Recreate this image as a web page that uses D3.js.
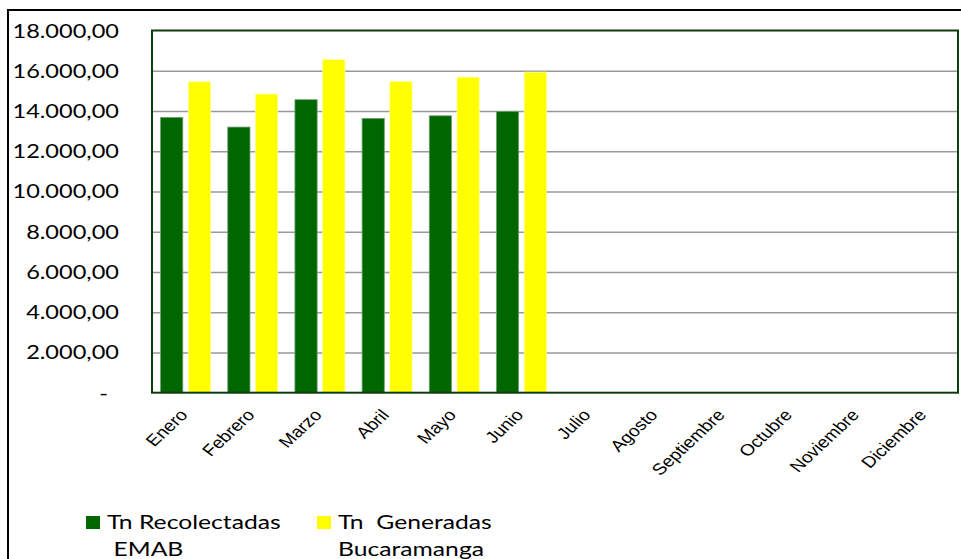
<!DOCTYPE html>
<html><head><meta charset="utf-8">
<script src="https://cdn.jsdelivr.net/npm/d3@7"></script>
<style>
html,body{margin:0;padding:0;background:#fff;}
svg{display:block;}
</style></head>
<body>
<svg id="chart" width="961" height="559"></svg>
<script>
const categories = ["Enero","Febrero","Marzo","Abril","Mayo","Junio","Julio","Agosto","Septiembre","Octubre","Noviembre","Diciembre"];
const recolectadasEMAB = [13680,13200,14560,13630,13760,13980,null,null,null,null,null,null];
const generadasBucaramanga = [15450,14840,16560,15470,15680,15930,null,null,null,null,null,null];
const yTickValues = [0,2000,4000,6000,8000,10000,12000,14000,16000,18000];
const seriesLabels = [["Tn Recolectadas","EMAB"],["Tn  Generadas","Bucaramanga"]];
const seriesColors = ["#006600","#ffff00"];

const svg = d3.select("#chart");
const SX = 1.3; // horizontal stretch of original rendering
const plot = {left:152, top:30.5, right:958, bottom:392.7};

// outer chart frame
svg.append("rect").attr("x",8).attr("y",10).attr("width",1000).attr("height",600)
  .attr("fill","#fff").attr("stroke","#000").attr("stroke-width",2);

const x = d3.scaleBand().domain(categories).range([plot.left, plot.right]).paddingInner(0).paddingOuter(0);
const xs = d3.scaleBand().domain([0,1]).range([0, x.bandwidth()]).paddingInner(0.2).paddingOuter(0.31);
const y = d3.scaleLinear().domain([0,18000]).range([plot.bottom, plot.top]);

const loc = d3.formatLocale({decimal:",", thousands:".", grouping:[3], currency:["$",""]});
const fmt = loc.format(",.2f");

// gridlines
const grid = svg.append("g").attr("transform",`translate(${plot.left},0)`)
  .call(d3.axisLeft(y).tickValues(yTickValues.filter(v=>v>0 && v<18000)).tickSize(-(plot.right-plot.left)).tickFormat(""));
grid.select(".domain").remove();
grid.selectAll(".tick line").attr("stroke","#999").attr("stroke-width",1.6);

// bars
const series = [recolectadasEMAB, generadasBucaramanga];
series.forEach((vals, si) => {
  svg.append("g").selectAll("rect")
    .data(categories.map((c,i)=>({c, v: vals[i]})).filter(d=>d.v!=null))
    .join("rect")
    .attr("x", d => x(d.c) + xs(si))
    .attr("width", xs.bandwidth())
    .attr("y", d => y(d.v))
    .attr("height", d => y(0) - y(d.v))
    .attr("fill", seriesColors[si])
    .attr("stroke", si===0 ? "#6fa06f" : "#ffff90")
    .attr("stroke-width", 0.8);
});

// plot frame
svg.append("rect").attr("x",plot.left).attr("y",plot.top)
  .attr("width",plot.right-plot.left).attr("height",plot.bottom-plot.top)
  .attr("fill","none").attr("stroke","#0d3d0d").attr("stroke-width",2);

// y axis labels
const yAxis = svg.append("g").attr("transform",`translate(119,0)`)
  .call(d3.axisLeft(y).tickValues(yTickValues).tickSize(0).tickFormat(v => v===0 ? "-" : fmt(v)));
yAxis.select(".domain").remove();
yAxis.selectAll(".tick text")
  .attr("x", null).attr("dy", null)
  .attr("transform", d => `translate(${d===0 ? -11 : 0},6.5) scale(1.24,1)`)
  .attr("text-anchor","end")
  .style("font-family","Lato, 'Open Sans', sans-serif")
  .style("font-size","19px")
  .attr("fill","#000");

// x axis labels
const xAxis = svg.append("g").attr("transform",`translate(0,${plot.bottom})`)
  .call(d3.axisBottom(x).tickSize(0));
xAxis.select(".domain").remove();
xAxis.selectAll(".tick text")
  .attr("y", null).attr("dy", null)
  .attr("text-anchor","end")
  .attr("transform", `translate(3,23) scale(1.2,1) rotate(-48)`)
  .style("font-family","'Liberation Sans', Arial, sans-serif")
  .style("font-size","16px")
  .attr("fill","#000");

// legend
const legendX = [86, 317];
seriesLabels.forEach((lines, si) => {
  const g = svg.append("g").attr("transform", `translate(${legendX[si]},0)`);
  g.append("rect").attr("x",0).attr("y",516).attr("width",14).attr("height",13).attr("fill",seriesColors[si]);
  const t = g.append("text")
    .attr("transform", `translate(21,529) scale(${SX},1)`)
    .style("font-family","Lato, 'Open Sans', sans-serif")
    .style("font-size","19px")
    .style("white-space","pre")
    .attr("fill","#000");
  t.append("tspan").attr("x",0).attr("y",0).text(lines[0]);
  t.append("tspan").attr("x", si===0 ? 5 : 0).attr("y",27).text(lines[1]);
});
</script>
</body></html>
